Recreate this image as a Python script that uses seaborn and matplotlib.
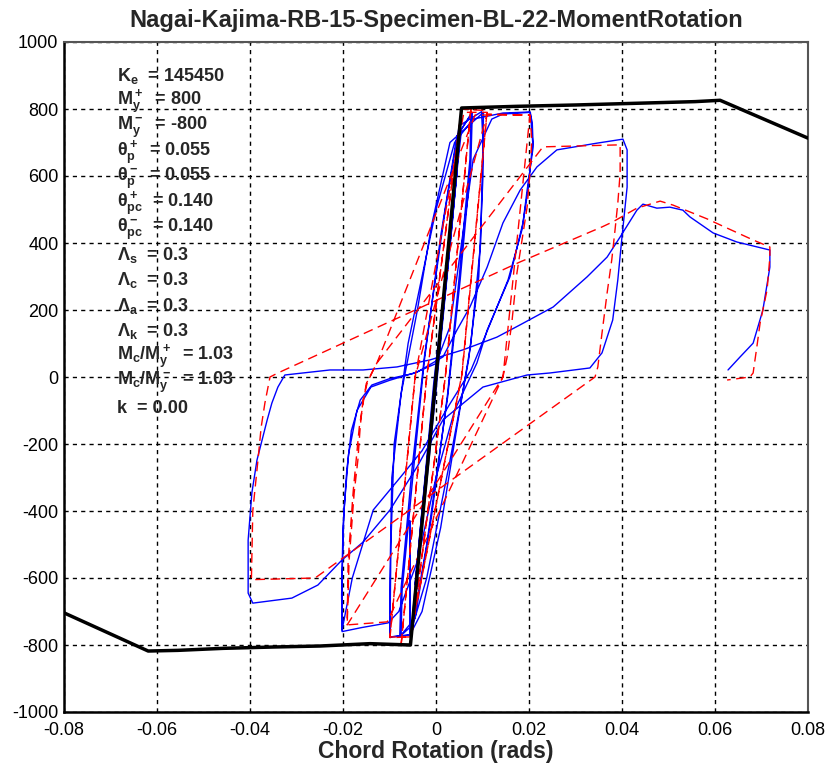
import matplotlib
matplotlib.use("Agg")
import matplotlib.pyplot as plt
import seaborn as sns
import pandas as pd

# ---------------- data ----------------
title = "Nagai-Kajima-RB-15-Specimen-BL-22-MomentRotation"
x_label = "Chord Rotation (rads)"

x_ticks = [-0.08, -0.06, -0.04, -0.02, 0, 0.02, 0.04, 0.06, 0.08]
x_tick_labels = ["-0.08", "-0.06", "-0.04", "-0.02", "0", "0.02", "0.04", "0.06", "0.08"]
y_ticks = [-1000, -800, -600, -400, -200, 0, 200, 400, 600, 800, 1000]
y_tick_labels = ["-1000", "-800", "-600", "-400", "-200", "0", "200", "400", "600", "800", "1000"]

# backbone (black)
backbone_rot = [-0.08, -0.0619, -0.0555, -0.0458, -0.035, -0.0249, -0.0142, -0.0055,
                0.0055, 0.0175, 0.0300, 0.0557, 0.0611, 0.08]
backbone_mom = [-704, -818, -816, -810, -806, -803, -796, -800,
                803, 808, 812, 822, 826, 713]

# experimental (blue)
exp_rot = [0, 0.002, 0.0045, 0.003, 0.0, -0.003, -0.0045, -0.003, 0.0, 0.003, 0.005, 0.0035, 0.0,
           -0.003, -0.005, -0.0035, -0.0005,
           0.003, 0.0055, 0.0075, 0.0073, 0.005, 0.0025, -0.001, -0.0045, -0.0075, -0.0073, -0.005,
           -0.0025, 0.001, 0.0045, 0.0078, 0.0075, 0.0052, 0.0025, -0.002, -0.005, -0.0078, -0.0075,
           -0.0052, -0.0025,
           0.002, 0.005, 0.0098, 0.0101, 0.0096, 0.0075, 0.0045, 0.001, -0.003, -0.0056, -0.0099,
           -0.0099, -0.0095, -0.0075, -0.004, -0.001, 0.003, 0.0102, 0.0101, 0.0092, 0.007, 0.003,
           -0.002, -0.0056, -0.0056, -0.0056, -0.0099, -0.0097, -0.009, -0.006,
           -0.003, 0.0, 0.004, 0.008, 0.0144, 0.0202, 0.0207, 0.0209, 0.0196, 0.0187, 0.0159, 0.011,
           0.0088, 0.004, 0.0, -0.004, -0.008, -0.0103, -0.016, -0.0202, -0.0203, -0.0200, -0.0192,
           -0.0182, -0.0163, -0.0138, -0.010, -0.005, 0.0, 0.003, 0.0055, 0.008, 0.012, 0.0144,
           0.0203, 0.0208, 0.0198, 0.0185, 0.0155, 0.0105, 0.0075, 0.003, -0.003, -0.0077, -0.0135,
           -0.018, -0.0202, -0.0202, -0.0198, -0.0188, -0.017, -0.014, -0.01, -0.004, 0.0015,
           0.0045, 0.0073, 0.011, 0.0144, 0.0181, 0.0217, 0.026, 0.0346, 0.0402, 0.0411, 0.0411,
           0.040, 0.0391, 0.038, 0.0357, 0.0331, 0.0245, 0.0196, 0.0101, 0.0015, -0.0041, -0.0099,
           -0.0157, -0.0202, -0.0254, -0.031, -0.0394, -0.0404, -0.0404, -0.0396, -0.0385, -0.0374,
           -0.0363, -0.0353, -0.034, -0.0325, -0.0228, -0.0157, -0.0084, -0.0013, 0.0058, 0.0131,
           0.018, 0.0252, 0.0325, 0.0368, 0.0396, 0.0432, 0.0445, 0.0475, 0.0503, 0.0531, 0.0546,
           0.0596, 0.0647, 0.0718, 0.0718, 0.0703, 0.0682, 0.0654, 0.0628]
exp_mom = [0, 260, 610, 390, -20, -420, -620, -400, 20, 430, 700, 460, -40,
           -450, -710, -470, -20,
           420, 740, 785, 650, 300, -50, -420, -720, -770, -640, -300,
           50, 420, 720, 788, 640, 290, -60, -500, -740, -775, -630,
           -280, 60,
           500, 750, 792, 700, 400, 100, -150, -450, -700, -770, -776,
           -600, -300, -50, 200, 450, 700, 790, 600, 300, 50, -250,
           -600, -770, -430, -770, -776, -500, -200, 100,
           300, 500, 700, 770, 788, 791, 760, 687, 558, 460, 299, 140,
           42, -100, -300, -550, -700, -734, -748, -760, -650, -450, -280,
           -160, -69, -24, -5, 10, 40, 150, 400, 650, 770, 785,
           790, 700, 560, 440, 290, 120, 20, -80, -220, -300, -397,
           -600, -755, -600, -400, -230, -100, -30, -10, 15, 60,
           140, 209, 328, 460, 558, 627, 678, 698, 710, 678, 567,
           418, 290, 170, 72, 27, 12, 6, -30, -128, -269, -397,
           -493, -546, -621, -660, -675, -645, -487, -346, -248, -188,
           -128, -78, -30, 6, 21, 21, 30, 51, 81, 119,
           155, 209, 299, 358, 418, 498, 516, 504, 507, 498, 478,
           430, 403, 379, 328, 200, 101, 60, 21]

# model (red dashed)
model_rot = [0, 0.0045, 0.003, -0.0045, -0.003, 0.0048, 0.0035, -0.0048, -0.0035,
             0.0055, 0.0075, 0.002, -0.0055, -0.0075, -0.002, 0.0055, 0.0075, 0.002, -0.0055,
             -0.0075, -0.002,
             0.0055, 0.011, 0.0055, -0.0056, -0.0099, -0.0045, 0.006, 0.011, 0.0056, -0.0056,
             -0.0099, -0.0045, 0.011,
             0.0202, 0.0144, -0.0105, -0.0191, -0.0187, -0.0176, -0.0168, -0.0163, -0.0157,
             -0.0148, -0.0135, -0.0127, 0.0084, 0.0202, 0.0206, 0.0202, 0.0196, 0.0185, 0.0174,
             0.0163, 0.0153, 0.0144, -0.0191, -0.0189, -0.0178, -0.0165, -0.0150, -0.0127,
             0.023, 0.0396, 0.0396, 0.0391, 0.0385, 0.0378, 0.0368, 0.0357, 0.0348, 0.0342,
             -0.026, -0.0397, -0.0394, -0.0383, -0.0376, -0.0368, -0.0357, -0.034,
             0.018, 0.0357, 0.038, 0.0432, 0.0482, 0.051, 0.0583, 0.0611, 0.0682, 0.0718, 0.0718,
             0.0712, 0.0697, 0.069, 0.0682, 0.0675, 0.0626]
model_mom = [0, 650, 430, -650, -430, 700, 510, -700, -510,
             800, 800, 0, -800, -799, 0, 800, 800, 0, -800,
             -799, 0,
             800, 795, 0, -776, -778, 0, 790, 790, 10, -776,
             -776, 0, 785,
             782, 0, -731, -740, -550, -346, -248, -149, -69,
             -18, 21, 42, 782, 782, 707, 609, 508, 409, 310,
             161, 60, 0, -740, -550, -340, -150, -20, 42,
             687, 693, 609, 519, 439, 350, 251, 131, 30, 0,
             -600, -605, -400, -250, -150, -78, 0, 12,
             343, 448, 463, 504, 525, 513, 472, 454, 409, 388, 358,
             260, 161, 90, 12, 0, -9]

param_labels = [r"$K_e$", r"$M^+_y$", r"$M^-_y$", r"$\theta^+_p$", r"$\theta^-_p$",
                r"$\theta^+_{pc}$", r"$\theta^-_{pc}$", r"$\Lambda_s$", r"$\Lambda_c$",
                r"$\Lambda_a$", r"$\Lambda_k$", r"$M_c/M^+_y$", r"$M_c/M^-_y$", "k"]
param_values = ["145450", "800", "-800", "0.055", "0.055", "0.140", "0.140",
                "0.3", "0.3", "0.3", "0.3", "1.03", "1.03", "0.00"]

# ---------------- plot ----------------
sns.set_style("white")
plt.rcParams["font.family"] = ["Liberation Sans", "DejaVu Sans"]
plt.rcParams["mathtext.fontset"] = "custom"
plt.rcParams["mathtext.rm"] = "Liberation Sans:bold"
plt.rcParams["mathtext.bf"] = "Liberation Sans:bold"
plt.rcParams["mathtext.it"] = "Liberation Sans:bold"
plt.rcParams["mathtext.default"] = "bf"

fig = plt.figure(figsize=(8.27, 7.67), dpi=100)
ax = fig.add_axes([64 / 827, 1 - 712 / 767, (808 - 64) / 827, (712 - 42) / 767])

exp_df = pd.DataFrame({"rot": exp_rot, "mom": exp_mom})
mod_df = pd.DataFrame({"rot": model_rot, "mom": model_mom})
bb_df = pd.DataFrame({"rot": backbone_rot, "mom": backbone_mom})

sns.lineplot(data=exp_df, x="rot", y="mom", sort=False, estimator=None, color="#0000ff",
             linewidth=1.0, ax=ax, zorder=3)
sns.lineplot(data=mod_df, x="rot", y="mom", sort=False, estimator=None, color="#ff0000",
             linewidth=1.0, linestyle=(0, (7, 4)), ax=ax, zorder=4)
sns.lineplot(data=bb_df, x="rot", y="mom", sort=False, estimator=None, color="black",
             linewidth=2.5, ax=ax, zorder=5)

ax.set_xlim(-0.08, 0.08)
ax.set_ylim(-1000, 1000)
ax.set_xticks(x_ticks)
ax.set_xticklabels(x_tick_labels)
ax.set_yticks(y_ticks)
ax.set_yticklabels(y_tick_labels)
ax.tick_params(axis="both", length=0, labelsize=13, colors="black")
ax.tick_params(axis="x", pad=7)
ax.tick_params(axis="y", pad=4)
ax.grid(True, color="black", linestyle=(0, (3, 3)), linewidth=1.0)
ax.set_axisbelow(True)

for side in ["left", "bottom"]:
    ax.spines[side].set_color("black")
    ax.spines[side].set_linewidth(1.8)
for side in ["top", "right"]:
    ax.spines[side].set_color("#555555")
    ax.spines[side].set_linewidth(1.5)

ax.set_xlabel(x_label, fontsize=16.5, fontweight="bold", labelpad=1)
ax.set_ylabel("")
ax.set_title(title, fontsize=17, fontweight="bold", pad=11)

y0 = 898
dy = 76.2
for i, (lab, val) in enumerate(zip(param_labels, param_values)):
    ax.text(-0.0686, y0 - i * dy, f"{lab}  = {val}", fontsize=13, fontweight="bold",
            va="center", ha="left", zorder=6)

fig.savefig("out.png", dpi=100, facecolor="white")
